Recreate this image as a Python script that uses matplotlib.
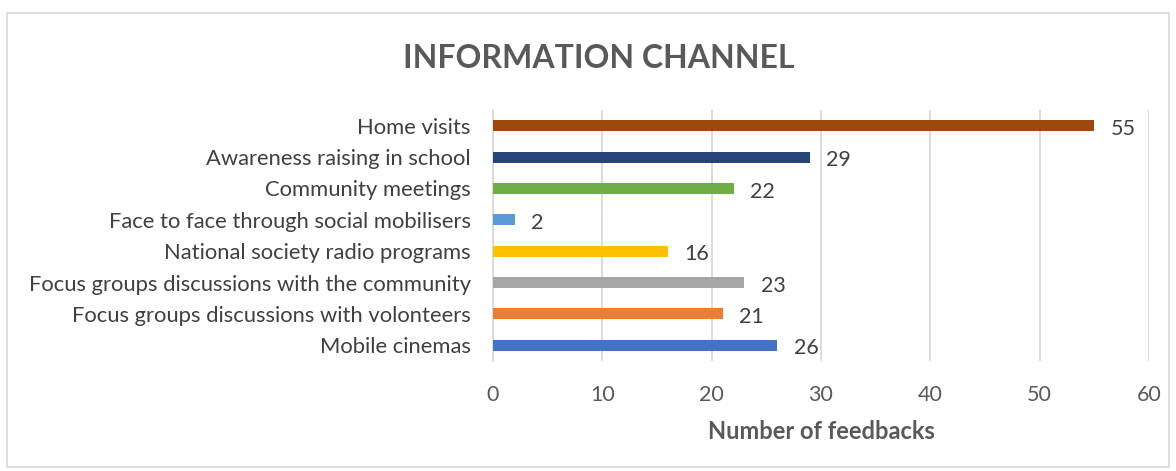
import matplotlib.pyplot as plt
from matplotlib.patches import Rectangle

categories = ['Mobile cinemas', 'Focus groups discussions with volonteers',
              'Focus groups discussions with the community', 'National society radio programs',
              'Face to face through social mobilisers', 'Community meetings',
              'Awareness raising in school', 'Home visits']
values = [26, 21, 23, 16, 2, 22, 29, 55]
colors = ['#4472C4', '#ED7D31', '#A5A5A5', '#FFC000', '#5B9BD5', '#70AD47', '#264478', '#9E480E']
xticks = [0, 10, 20, 30, 40, 50, 60]

plt.rcParams['font.family'] = ['Lato', 'DejaVu Sans']

fig = plt.figure(figsize=(11.76, 4.71), dpi=100)
ax = fig.add_axes([493/1176, 1 - 361/471, (1149 - 493)/1176, 251/471])

y = range(len(categories))
ax.barh(y, values, height=0.35, color=colors, zorder=3)
for i, v in enumerate(values):
    ax.text(v + 1.5, i - 0.1, str(v), va='center', ha='left', fontsize=15.5, color='#404040')

ax.set_xlim(0, 60)
ax.set_ylim(-0.5, len(categories) - 0.5)
ax.set_xticks(xticks)
ax.set_yticks(list(y))
ax.set_yticklabels(categories, fontsize=15.8, color='#404040')
ax.tick_params(axis='x', length=0, pad=17, labelsize=15.5, labelcolor='#595959')
ax.tick_params(axis='y', length=0, pad=16)
ax.grid(axis='x', color='#D9D9D9', linewidth=1.3, zorder=0)
for s in ['top', 'right', 'bottom']:
    ax.spines[s].set_visible(False)
ax.spines['left'].set_color('#D9D9D9')
ax.spines['left'].set_linewidth(1.3)
ax.set_xlabel('Number of feedbacks', fontsize=17, fontweight='bold', color='#595959', labelpad=11)

fig.text(0.509, 1 - 59/471, 'INFORMATION CHANNEL', ha='center', va='center',
         fontsize=23, fontweight='bold', color='#595959')

fig.patches.append(Rectangle((7/1176, 4/471), 1162/1176, 1 - 13/471 - 4/471,
                             transform=fig.transFigure, fill=False,
                             edgecolor='#D9D9D9', linewidth=1.2))

fig.savefig('out.png', dpi=100)
